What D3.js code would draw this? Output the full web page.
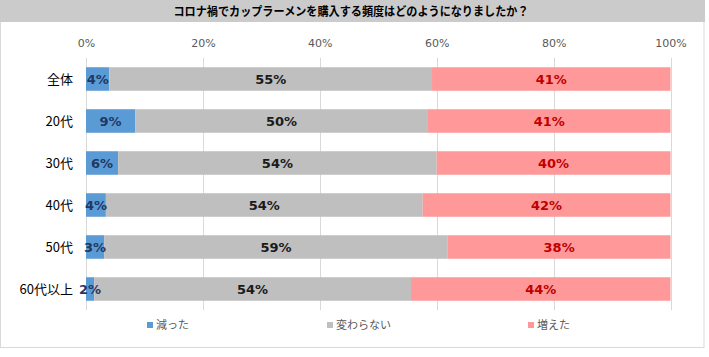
<!DOCTYPE html>
<html><head><meta charset="utf-8">
<script src="https://cdn.jsdelivr.net/npm/d3@7"></script>
<style>html,body{margin:0;padding:0;background:#fff;}svg{display:block;}</style>
</head><body>
<script>
const title = "コロナ禍でカップラーメンを購入する頻度はどのようになりましたか？";
const categories = ["全体","20代","30代","40代","50代","60代以上"];
const seriesNames = ["減った","変わらない","増えた"];
const decreased = [4.0, 8.4, 5.5, 3.4, 3.1, 1.4];
const unchanged = [55.2, 50.1, 54.5, 54.2, 58.8, 54.2];
const increased = [40.8, 41.5, 40.0, 42.4, 38.1, 44.4];
const decreasedLabels = ["4%","9%","6%","4%","3%","2%"];
const unchangedLabels = ["55%","50%","54%","54%","59%","54%"];
const increasedLabels = ["41%","41%","40%","42%","38%","44%"];
const tickValues = [0,20,40,60,80,100];
const tickLabels = ["0%","20%","40%","60%","80%","100%"];

const W = 709, H = 357;
const colors = ["#5b9bd5","#bfbfbf","#ff9999"];
const labelColors = ["#1f3864","#1a1a1a","#c00000"];
const legendX = [147, 327, 528];

const rows = categories.map((c,i)=>({cat:c, "減った":decreased[i], "変わらない":unchanged[i], "増えた":increased[i]}));
const labelSets = [decreasedLabels, unchangedLabels, increasedLabels];

const svg = d3.select("body").append("svg").attr("width",W).attr("height",H);

// frame
svg.append("rect").attr("x",0.5).attr("y",0.5).attr("width",703.5).attr("height",347)
  .attr("fill","#fff").attr("stroke","#d9d9d9");
// title band
svg.append("rect").attr("x",0).attr("y",0).attr("width",705).attr("height",22).attr("fill","#cbcbcb");
svg.append("text").attr("x",351).attr("y",15.5).attr("text-anchor","middle")
  .attr("font-family","'Noto Sans CJK JP'").attr("font-weight","bold").attr("font-size",12)
  .attr("fill","#000").attr("textLength",355).attr("lengthAdjust","spacingAndGlyphs").text(title);

const x = d3.scaleLinear().domain([0,100]).range([86,670.5]);
const y = d3.scaleBand().domain(categories).range([58,310]).paddingInner(0.44).paddingOuter(0.22);

// gridlines
svg.append("g").selectAll("line").data(tickValues).join("line")
  .attr("x1",d=>Math.round(x(d))+0.5).attr("x2",d=>Math.round(x(d))+0.5)
  .attr("y1",58).attr("y2",310).attr("stroke","#d9d9d9").attr("stroke-width",1);

// top axis labels
const axis = d3.axisTop(x).tickValues(tickValues).tickFormat((d,i)=>tickLabels[i]).tickSize(0).tickPadding(0);
const ag = svg.append("g").attr("transform","translate(0,47)").call(axis);
ag.select(".domain").remove();
ag.selectAll("text").attr("font-family","'DejaVu Sans'").attr("font-size",11).attr("fill","#595959").attr("dy",0);

// stacked bars
const stack = d3.stack().keys(seriesNames)(rows);
const layers = svg.append("g").selectAll("g").data(stack).join("g").attr("fill",(d,i)=>colors[i]);
layers.selectAll("rect").data(d=>d).join("rect")
  .attr("x",d=>x(d[0])).attr("width",d=>x(d[1])-x(d[0]))
  .attr("y",d=>y(d.data.cat)).attr("height",y.bandwidth());

// data labels
stack.forEach((layer,si)=>{
  svg.append("g").selectAll("text").data(layer).join("text")
    .attr("x",d=>(x(d[0])+x(d[1]))/2)
    .attr("y",d=>y(d.data.cat)+y.bandwidth()/2)
    .attr("dy","0.36em").attr("text-anchor","middle")
    .attr("font-family","'DejaVu Sans'").attr("font-weight","bold").attr("font-size",13)
    .attr("fill",labelColors[si])
    .text((d,i)=>labelSets[si][i]);
});

// category labels
const yAxis = d3.axisLeft(y).tickSize(0).tickPadding(0);
const yg = svg.append("g").attr("transform","translate(73,0)").call(yAxis);
yg.select(".domain").remove();
yg.selectAll("text").attr("font-family","'Noto Sans CJK JP'").attr("font-size",13).attr("fill","#000").attr("dy","0.36em");

// legend
const lg = svg.append("g").selectAll("g").data(seriesNames).join("g")
  .attr("transform",(d,i)=>`translate(${legendX[i]},325)`);
lg.append("rect").attr("x",0).attr("y",-3).attr("width",6).attr("height",6).attr("fill",(d,i)=>colors[i]);
lg.append("text").attr("x",9).attr("y",0).attr("dy","0.36em")
  .attr("font-family","'Noto Sans CJK JP'").attr("font-size",11).attr("fill","#595959").text(d=>d);
</script>
</body></html>
